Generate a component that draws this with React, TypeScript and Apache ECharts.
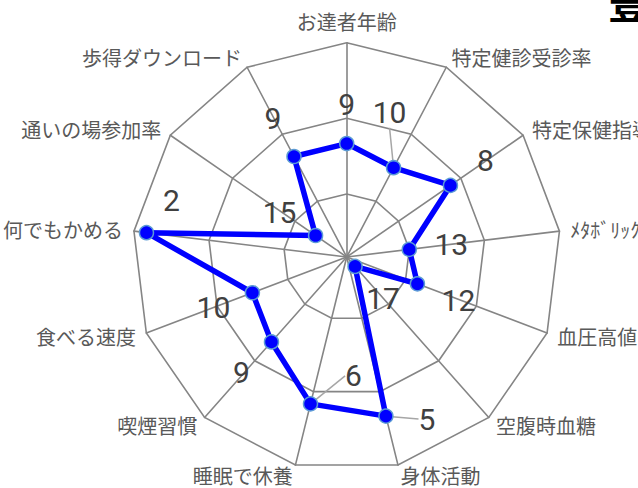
import React, { useEffect, useRef } from "react";
import * as echarts from "echarts";

// ---- data ----
const CATEGORIES = [
  "お達者年齢",
  "特定健診受診率",
  "特定保健指導",
  "ﾒﾀﾎﾞﾘｯｸｼﾝﾄﾞﾛｰﾑ",
  "血圧高値",
  "空腹時血糖",
  "身体活動",
  "睡眠で休養",
  "喫煙習慣",
  "食べる速度",
  "何でもかめる",
  "通いの場参加率",
  "歩得ダウンロード",
];
const RANKS = [9, 10, 8, 13, 12, 17, 5, 6, 9, 10, 2, 15, 9];
const RANK_CENTER = 18; // rank drawn at the centre
const RANK_OUTER = 1; // rank drawn on the outer ring
const RING_RANKS = [13, 7, 1];
const TITLE = "豊島区";
const LEADER_SPOKES = [1, 6, 7];

// ---- layout / style ----
const CX = 346.7;
const CY = 257;
const R = 214.3;
const LABEL_OFFSETS: number[][] = [
  [0, -39],
  [-4, -55],
  [35, -25],
  [42, -5],
  [41, 17],
  [28, 32],
  [41, 3],
  [43, -28],
  [-30, 31],
  [-39, 15],
  [25, -32],
  [-36, -23],
  [-21, -38],
];
const GRID_COLOR = "#858585";
const NAME_FONT = "'Noto Sans CJK JP', 'Noto Sans', sans-serif";
const NUM_FONT = "'Liberation Sans Narrow', 'Roboto', sans-serif";

export default function App() {
  const ref = useRef<HTMLDivElement>(null);

  useEffect(() => {
    if (!ref.current) return;
    const chart = echarts.init(ref.current, undefined, { renderer: "svg" });
    const N = CATEGORIES.length;
    const SPAN = RANK_CENTER - RANK_OUTER;
    // ECharts radar goes counter-clockwise; reorder so categories run clockwise
    const order = CATEGORIES.map((_, j) => (N - j) % N);
    const indicator = order.map((i) => ({ name: CATEGORIES[i], min: 0, max: SPAN }));
    const plotted = order.map((i) => RANK_CENTER - RANKS[i]);
    const gridLine = { lineStyle: { color: GRID_COLOR, width: 1.6 } };

    const spokeOf = (p: any) => {
      const x = p.rect.x + p.rect.width / 2;
      const y = p.rect.y + p.rect.height / 2;
      let a = Math.atan2(x - CX, CY - y);
      if (a < 0) a += Math.PI * 2;
      return Math.round(a / ((Math.PI * 2) / N)) % N;
    };
    const layoutMain = (p: any) => {
      const o = LABEL_OFFSETS[spokeOf(p)];
      return { dx: o[0], dy: o[1] };
    };
    const layoutLeader = (p: any) => {
      const s = spokeOf(p);
      if (!LEADER_SPOKES.includes(s)) return { dx: 0, dy: 0 };
      const o = LABEL_OFFSETS[s];
      return { dx: o[0], dy: o[1] };
    };
    const labelBase = {
      show: true,
      position: "inside",
      fontFamily: NUM_FONT,
      fontSize: 30,
      color: "#404040",
    };

    const ringRadars = RING_RANKS.filter((r) => r !== RANK_OUTER).map((rank) => ({
      center: [CX, CY],
      radius: (R * (RANK_CENTER - rank)) / SPAN,
      startAngle: 90,
      shape: "polygon",
      splitNumber: 1,
      indicator: order.map(() => ({ name: "", min: 0, max: 1 })),
      axisName: { show: false },
      axisLine: { show: false },
      axisTick: { show: false },
      axisLabel: { show: false },
      splitArea: { show: false },
      splitLine: gridLine,
    }));

    chart.setOption({
      animation: false,
      title: {
        text: TITLE,
        left: 603,
        top: -27,
        textStyle: { fontFamily: NAME_FONT, fontSize: 44, fontWeight: "bold", color: "#000" },
      },
      radar: [
        {
          center: [CX, CY],
          radius: R,
          startAngle: 90,
          shape: "polygon",
          splitNumber: 1,
          nameGap: 11,
          indicator,
          axisName: { color: "#595959", fontSize: 20, lineHeight: 20, fontFamily: NAME_FONT },
          axisLine: gridLine,
          axisTick: { show: false },
          axisLabel: { show: false },
          splitArea: { show: false },
          splitLine: gridLine,
        },
        ...ringRadars,
      ],
      series: [
        {
          type: "radar",
          radarIndex: 0,
          z: 2,
          symbol: "circle",
          symbolSize: 1,
          silent: true,
          lineStyle: { width: 0, opacity: 0 },
          itemStyle: { color: "rgba(0,0,0,0)" },
          label: {
            ...labelBase,
            formatter: (p: any) =>
              LEADER_SPOKES.includes(order[p.dimensionIndex]) ? String(RANK_CENTER - p.value) : "",
          },
          labelLine: { show: true, length2: 0, lineStyle: { color: "#A6A6A6", width: 1.5 } },
          labelLayout: layoutLeader,
          data: [{ value: plotted }],
        },
        {
          type: "radar",
          radarIndex: 0,
          z: 3,
          symbol: "circle",
          symbolSize: 14,
          lineStyle: { color: "#0000FF", width: 5.5 },
          itemStyle: { color: "#0000FF", borderColor: "#5B9BD5", borderWidth: 1.5 },
          label: {
            ...labelBase,
            formatter: (p: any) =>
              LEADER_SPOKES.includes(order[p.dimensionIndex]) ? "" : String(RANK_CENTER - p.value),
          },
          labelLayout: layoutMain,
          data: [{ value: plotted }],
        },
      ],
    });
    return () => chart.dispose();
  }, []);

  return (
    <div
      ref={ref}
      style={{ position: "absolute", left: 0, top: 0, width: 638, height: 488, background: "#fff" }}
    />
  );
}
